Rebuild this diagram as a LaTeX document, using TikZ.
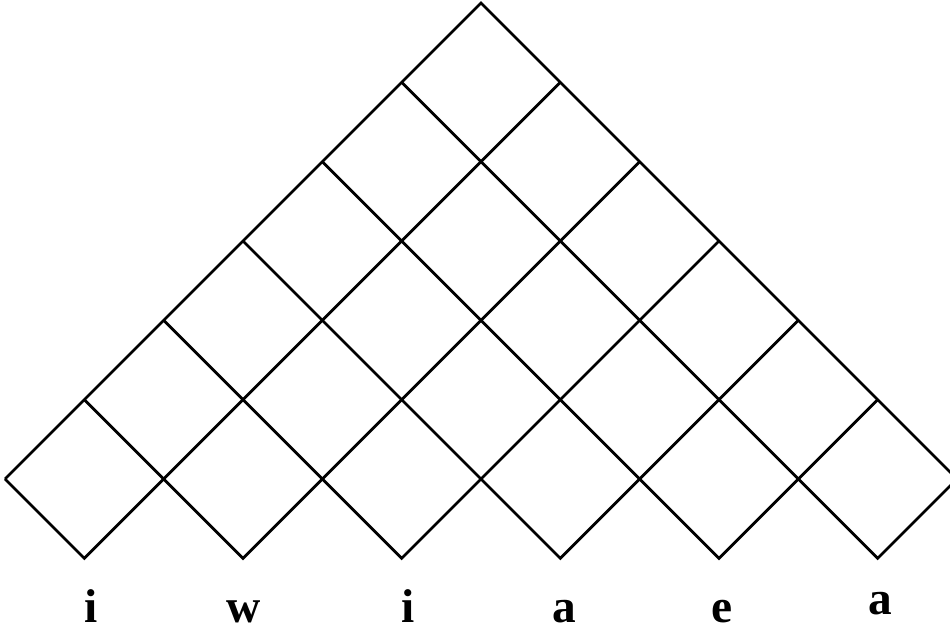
\documentclass[tikz,border=0pt]{standalone}
\usepackage{fontspec}
\setmainfont{Liberation Serif}
\begin{document}
\begin{tikzpicture}[x=1cm,y=1cm,
  grid/.style={line width=1pt, line join=miter},
  letter/.style={font=\fontsize{17}{20}\selectfont\bfseries, anchor=base, inner sep=0pt}]
\useasboundingbox (-0.063,-1.954) rectangle (11.912,6.038);
\clip (-0.063,-1.954) rectangle (11.912,6.038);
\coordinate (L) at (0,0);
\coordinate (T) at (6,6);
\coordinate (R) at (12,0);
\draw[grid] (L) -- (T) -- (R);
\foreach \k in {0,...,5} {
  \coordinate (b\k) at ({2*\k+1},-1);
  \draw[grid] (\k,\k) -- (b\k) -- ({\k+7},{5-\k});
}
\node[letter] (w1) at (1.084,-1.803) {i};
\node[letter] (w2) at (3.013,-1.803) {w};
\node[letter] (w3) at (5.080,-1.803) {i};
\node[letter] (w4) at (7.047,-1.803) {a};
\node[letter] (w5) at (9.040,-1.803) {e};
\node[letter] (w6) at (11.040,-1.702) {a};
\end{tikzpicture}
\end{document}
